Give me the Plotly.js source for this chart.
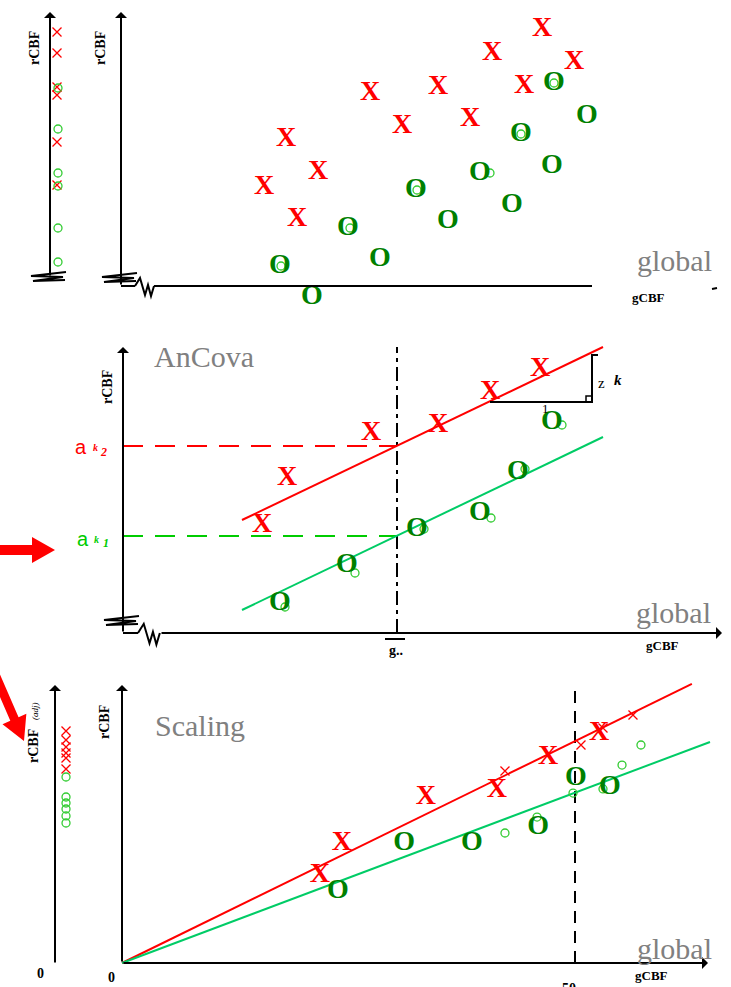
<!DOCTYPE html>
<html>
<head>
<meta charset="utf-8">
<script src="https://cdn.plot.ly/plotly-3.0.1.min.js"></script>
<style>
  html, body { margin: 0; padding: 0; background: #fff; }
  #chart { width: 731px; height: 987px; }
</style>
</head>
<body>
<div id="chart"></div>
<script>
// ---------- Panel 1: raw rCBF against gCBF, two conditions ----------
const rawX_g = [42.0, 37.0, 45.2, 40.2, 24.8, 31.6, 28.0, 34.8, 16.4, 19.6, 14.2, 17.5];
const rawX_r = [25.7, 23.3, 22.4, 20.0, 19.3, 19.9, 16.0, 16.7, 14.7, 11.4, 9.9, 6.7];
const rawO_g = [43.2, 46.5, 39.9, 43.0, 35.8, 39.0, 29.4, 32.6, 22.6, 25.8, 15.8, 19.0];
const rawO_r = [20.3, 17.0, 15.2, 12.0, 11.3, 8.1, 9.6, 6.5, 5.8, 2.7, 2.0, -1.1];
const rawSmallO_g = [29.5, 22.8, 15.9, 43.2, 39.9, 36.8];
const rawSmallO_r = [9.6, 5.8, 2.0, 20.3, 15.2, 11.3];
// marginal rCBF values (left strip)
const margX_r = [25.4, 23.3, 19.9, 19.1, 14.4, 10.1];
const margO_r = [19.8, 15.7, 11.3, 10.0, 5.8, 2.4];

// ---------- Panel 2: AnCova ----------
const ancX_g = [24.8, 31.5, 36.7, 41.7, 16.4, 13.9];
const ancX_r = [20.0, 20.8, 24.1, 26.4, 15.5, 10.8];
const ancO_g = [15.7, 22.4, 29.4, 35.7, 39.5, 42.9];
const ancO_r = [3.0, 6.8, 10.4, 12.0, 16.1, 21.1];
const ancSmallO_g = [16.2, 23.2, 30.1, 36.8, 40.2, 43.9];
const ancSmallO_r = [2.6, 6.0, 10.4, 11.5, 16.4, 20.8];
const ancLine_g = [11.9, 48.0];
const ancLineX_r = [11.3, 28.6];
const ancLineO_r = [2.3, 19.6];
const gBar = 27.4;
const akLevels = [9.7, 18.7];            // a_k1 (green), a_k2 (red)
const slopeRun = [36.7, 46.9];           // "1" step
const slopeRise = [23.1, 27.8];          // "zk" rise

// ---------- Panel 3: proportional scaling ----------
const scaleX_g = [21.85, 24.28, 33.55, 41.39, 47.02, 52.65];
const scaleX_r = [9.71, 13.25, 18.32, 19.09, 22.74, 25.39];
const scaleO_g = [23.84, 31.13, 38.63, 45.92, 50.11, 53.86];
const scaleO_r = [7.95, 13.25, 13.25, 15.01, 20.42, 19.43];
const scaleSmallX_g = [42.27, 50.66, 56.40, 53.09];
const scaleSmallX_r = [21.19, 24.06, 27.37, 25.94];
const scaleSmallO_g = [42.27, 45.81, 49.78, 55.19, 57.28, 53.09];
const scaleSmallO_r = [14.35, 16.11, 18.76, 21.85, 24.06, 19.21];
const scaleLineX_g = [0, 62.9];
const scaleLineX_r = [0, 30.8];
const scaleLineO_g = [0, 64.9];
const scaleLineO_r = [0, 24.4];
const gRef = 50;
const adjX_r = [25.61, 24.61, 23.84, 23.18, 22.63, 21.41];
const adjO_r = [20.53, 18.32, 17.66, 17.00, 16.23, 15.45];

// ---------- page geometry ----------
const W = 731, H = 987;
const RED = '#ff0000', DKGREEN = '#008000', LTGREEN = '#33cc33', LINEGREEN = '#00cc66';
const SERIF = 'Liberation Serif, Times New Roman, serif';
const GRAY = '#808080';

// each panel: origin in pixels, pixels per unit, vertical band
const panels = [
  { ox: 122, oy: 286, s: 10,   top: 0,   bottom: 310 },
  { ox: 123, oy: 633, s: 10,   top: 310, bottom: 660 },
  { ox: 122, oy: 963, s: 9.06, top: 660, bottom: 987 }
];

const layout = {
  width: W, height: H,
  margin: { l: 0, r: 0, t: 0, b: 0 },
  paper_bgcolor: '#fff', plot_bgcolor: 'rgba(0,0,0,0)',
  showlegend: false,
  shapes: [], annotations: []
};
panels.forEach((p, i) => {
  const n = i === 0 ? '' : String(i + 1);
  layout['xaxis' + n] = { domain: [0, 1], range: [(0 - p.ox) / p.s, (W - p.ox) / p.s],
    visible: false, fixedrange: true, anchor: 'y' + n };
  layout['yaxis' + n] = { domain: [1 - p.bottom / H, 1 - p.top / H],
    range: [(p.oy - p.bottom) / p.s, (p.oy - p.top) / p.s],
    visible: false, fixedrange: true, anchor: 'x' + n };
});

const traces = [];
function ax(n) { return n === 1 ? { xaxis: 'x', yaxis: 'y' } : { xaxis: 'x' + n, yaxis: 'y' + n }; }
function bigGlyph(n, xs, ys, ch, color) {
  traces.push(Object.assign({
    type: 'scatter', mode: 'text', x: xs, y: ys, text: xs.map(() => '<b>' + ch + '</b>'),
    textposition: 'middle center', cliponaxis: false, hoverinfo: 'skip',
    textfont: { family: SERIF, size: 28, color: color }
  }, ax(n)));
}
function smallMark(n, xs, ys, kind) {
  const isX = kind === 'x';
  const c = isX ? RED : LTGREEN;
  traces.push(Object.assign({
    type: 'scatter', mode: 'markers', x: xs, y: ys, cliponaxis: false, hoverinfo: 'skip',
    marker: { symbol: isX ? 'x-thin-open' : 'circle-open', size: isX ? 9 : 8, color: c,
      line: { color: c, width: 1.3 } }
  }, ax(n)));
}
function line(n, xs, ys, color, width, dash) {
  traces.push(Object.assign({
    type: 'scatter', mode: 'lines', x: xs, y: ys, cliponaxis: false, hoverinfo: 'skip',
    line: { color: color, width: width, dash: dash || 'solid' }
  }, ax(n)));
}
function constArr(arr, v) { return arr.map(() => v); }

// ---- panel 1 ----
smallMark(1, constArr(margX_r, -6.5), margX_r, 'x');
smallMark(1, constArr(margO_r, -6.4), margO_r, 'o');
smallMark(1, rawSmallO_g, rawSmallO_r, 'o');
bigGlyph(1, rawX_g, rawX_r, 'X', RED);
bigGlyph(1, rawO_g, rawO_r, 'O', DKGREEN);

// ---- panel 2 ----
line(2, [0, gBar], [akLevels[1], akLevels[1]], RED, 2, '20px,12px');
line(2, [0, gBar], [akLevels[0], akLevels[0]], '#00cc00', 2, '20px,12px');
line(2, [gBar, gBar], [0, 28.6], '#000', 2, '14px,5px,4px,5px');
line(2, ancLine_g, ancLineX_r, RED, 2);
line(2, ancLine_g, ancLineO_r, LINEGREEN, 2);
line(2, [slopeRun[0], slopeRun[1], slopeRun[1], slopeRun[1] + 0.6],
        [slopeRise[0], slopeRise[0], slopeRise[1], slopeRise[1]], '#000', 2);
line(2, [slopeRun[1] - 0.6, slopeRun[1] - 0.6, slopeRun[1]],
        [slopeRise[0], slopeRise[0] + 0.6, slopeRise[0] + 0.6], '#000', 1.5);
smallMark(2, ancSmallO_g, ancSmallO_r, 'o');
bigGlyph(2, ancX_g, ancX_r, 'X', RED);
bigGlyph(2, ancO_g, ancO_r, 'O', DKGREEN);

// ---- panel 3 ----
line(3, [gRef, gRef], [0, 30.9], '#000', 2, '12px,8px');
line(3, scaleLineX_g, scaleLineX_r, RED, 2);
line(3, scaleLineO_g, scaleLineO_r, LINEGREEN, 2);
smallMark(3, constArr(adjX_r, -6.18), adjX_r, 'x');
smallMark(3, constArr(adjO_r, -6.18), adjO_r, 'o');
smallMark(3, scaleSmallX_g, scaleSmallX_r, 'x');
smallMark(3, scaleSmallO_g, scaleSmallO_r, 'o');
bigGlyph(3, scaleX_g, scaleX_r, 'X', RED);
bigGlyph(3, scaleO_g, scaleO_r, 'O', DKGREEN);

// ---------- decorations in page pixels ----------
const PX = x => x / W, PY = y => 1 - y / H;
function pathOf(pts, close) {
  return 'M' + pts.map(p => PX(p[0]).toFixed(5) + ',' + PY(p[1]).toFixed(5)).join('L') + (close ? 'Z' : '');
}
function strokePath(pts, width) {
  layout.shapes.push({ type: 'path', xref: 'paper', yref: 'paper', path: pathOf(pts, false),
    line: { color: '#000', width: width || 2 }, fillcolor: 'rgba(0,0,0,0)' });
}
function fillPath(pts, color) {
  layout.shapes.push({ type: 'path', xref: 'paper', yref: 'paper', path: pathOf(pts, true),
    line: { color: color, width: 0 }, fillcolor: color });
}
function seg(x0, y0, x1, y1, w) { strokePath([[x0, y0], [x1, y1]], w); }
function axisArrow(tipX, tipY, tailX, tailY) {
  layout.annotations.push({ xref: 'paper', yref: 'paper', x: PX(tipX), y: PY(tipY),
    axref: 'pixel', ayref: 'pixel', ax: tailX - tipX, ay: tailY - tipY, text: '',
    showarrow: true, arrowhead: 1, arrowsize: 1, arrowwidth: 2, arrowcolor: '#000', standoff: 0 });
}
// axis-break marks: a flat zigzag across a vertical axis, an upright one along a horizontal axis
function hZig(cx, cy) {
  strokePath([[cx + 16, cy - 5], [cx - 19, cy - 1], [cx + 13, cy + 0], [cx - 17, cy + 4], [cx + 15, cy + 3]], 2);
}
function vZig(x0, y0, k) {
  k = k || 1;
  strokePath([[x0, y0], [x0 + 5 * k, y0 - 8 * k], [x0 + 10 * k, y0 + 9 * k], [x0 + 13 * k, y0 - 1 * k],
              [x0 + 16 * k, y0 + 10 * k], [x0 + 19 * k, y0]], 2);
}
function blockArrow(tail, tip, bodyW, headLen, headW, color) {
  const dx = tip[0] - tail[0], dy = tip[1] - tail[1], L = Math.hypot(dx, dy);
  const ux = dx / L, uy = dy / L, nx = -uy, ny = ux;
  const bx = tip[0] - ux * headLen, by = tip[1] - uy * headLen;
  fillPath([
    [tail[0] + nx * bodyW / 2, tail[1] + ny * bodyW / 2],
    [bx + nx * bodyW / 2, by + ny * bodyW / 2],
    [bx + nx * headW / 2, by + ny * headW / 2],
    tip,
    [bx - nx * headW / 2, by - ny * headW / 2],
    [bx - nx * bodyW / 2, by - ny * bodyW / 2],
    [tail[0] - nx * bodyW / 2, tail[1] - ny * bodyW / 2]
  ], color);
}
function label(text, x, y, o) {
  const a = Object.assign({ xref: 'paper', yref: 'paper', x: PX(x), y: PY(y), text: text,
    showarrow: false, xanchor: 'center', yanchor: 'middle',
    font: { family: SERIF, size: 14, color: '#000' } }, o || {});
  layout.annotations.push(a);
}
const BOLD13 = { family: SERIF, size: 13, color: '#000' };
const GRAYBIG = { family: SERIF, size: 30, color: GRAY };

// panel 1 axes
axisArrow(50, 12, 50, 277);
hZig(50, 277);
axisArrow(121, 12, 121, 286);
hZig(121, 278);
seg(121, 286, 135, 286, 2);
vZig(135, 286, 1);
seg(154, 286, 592, 286, 2);
seg(712, 289, 717, 288, 2);
label('<b>rCBF</b>', 34, 48, { textangle: -90 });
label('<b>rCBF</b>', 100, 48, { textangle: -90 });
label('global', 674, 260, { font: GRAYBIG });
label('<b>gCBF</b>', 648, 297, { font: BOLD13 });

// panel 2 axes
axisArrow(123, 347, 123, 633);
hZig(123, 621);
seg(123, 633, 138, 633, 2);
vZig(138, 633, 1.15);
axisArrow(722, 633, 160, 633);
blockArrow([-2, 550], [55, 550], 10, 23, 26, RED);
label('<b>rCBF</b>', 107, 387, { textangle: -90 });
label('AnCova', 204, 357, { font: GRAYBIG });
label('a', 81, 447, { font: { family: 'Liberation Sans, Arial, sans-serif', size: 20, color: RED } });
label('<b><i>k</i></b>', 95, 447, { font: { family: SERIF, size: 10, color: RED } });
label('<b><i>2</i></b>', 103, 452, { font: { family: SERIF, size: 12, color: RED } });
label('a', 83, 539, { font: { family: 'Liberation Sans, Arial, sans-serif', size: 20, color: '#00cc00' } });
label('<b><i>k</i></b>', 96, 539, { font: { family: SERIF, size: 10, color: '#00cc00' } });
label('<b><i>1</i></b>', 106, 543, { font: { family: SERIF, size: 12, color: '#00cc00' } });
seg(385, 639, 405, 639, 2);
label('<b>g..</b>', 396, 650, { font: { family: SERIF, size: 14, color: '#000' } });
label('1', 545, 408, { font: { family: SERIF, size: 13, color: '#000' } });
label('z', 601, 383, { font: { family: SERIF, size: 15, color: '#000' } });
label('<b><i>k</i></b>', 618, 380, { font: { family: SERIF, size: 15, color: '#000' } });
label('global', 673, 612, { font: GRAYBIG });
label('<b>gCBF</b>', 662, 645, { font: BOLD13 });

// panel 3 axes
axisArrow(55, 685, 55, 964);
axisArrow(122, 685, 122, 963);
axisArrow(708, 963, 122, 963);
blockArrow([-6, 672], [24, 741], 9, 24, 26, RED);
label('<b>rCBF</b>', 33, 746, { textangle: -90 });
label('<i>(adj)</i>', 35, 711, { textangle: -90, font: { family: SERIF, size: 9, color: '#000' } });
label('<b>rCBF</b>', 104, 722, { textangle: -90 });
label('<b>0</b>', 40, 973);
label('<b>0</b>', 111, 977);
label('Scaling', 200, 725, { font: GRAYBIG });
label('<b>50</b>', 569, 989);
label('<b>gCBF</b>', 651, 975, { font: BOLD13 });
label('global', 674, 948, { font: GRAYBIG });

Plotly.newPlot('chart', traces, layout, { staticPlot: true, displayModeBar: false });
</script>
</body>
</html>
